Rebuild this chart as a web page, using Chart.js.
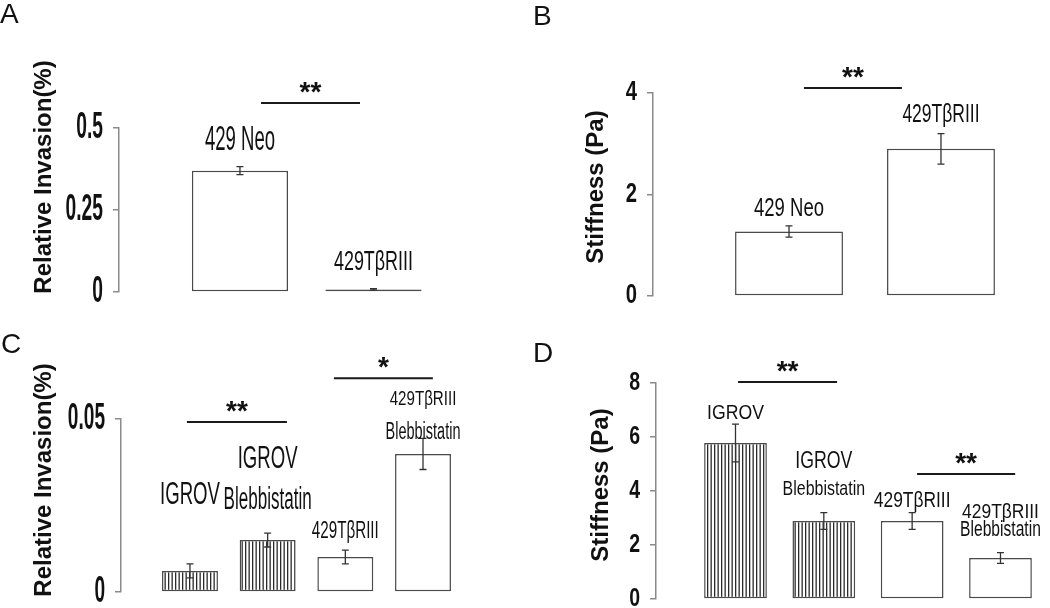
<!DOCTYPE html>
<html>
<head>
<meta charset="utf-8">
<script src="https://cdn.jsdelivr.net/npm/chart.js@4.4.1/dist/chart.umd.min.js"></script>
<style>
  html, body { margin: 0; padding: 0; background: #fff; }
  #fig { position: relative; width: 1050px; height: 608px; overflow: hidden; background: #fff; }
  #fig canvas { position: absolute; left: 0; top: 0; }
</style>
</head>
<body>
<div id="fig">
  <canvas id="chartA" width="1050" height="608"></canvas>
  <canvas id="chartB" width="1050" height="608"></canvas>
  <canvas id="chartC" width="1050" height="608"></canvas>
  <canvas id="chartD" width="1050" height="608"></canvas>
</div>
<script>
/* ============================================================
   Invasion / stiffness panels (A-D)
   ============================================================ */

// ---- data ----
const aGroups = [["429 Neo"], ["429TβRIII"]];
const aInvasion = [0.37, 0.008];
const aInvasionErr = [0.012, 0.002];
const aTicks = [0, 0.25, 0.5];

const bGroups = [["429 Neo"], ["429TβRIII"]];
const bStiffness = [1.27, 2.9];
const bStiffnessErr = [0.11, 0.3];
const bTicks = [0, 2, 4];

const cGroups = [["IGROV"], ["IGROV", "Blebbistatin"], ["429TβRIII"], ["429TβRIII", "Blebbistatin"]];
const cInvasion = [0.0061, 0.015, 0.0101, 0.0399];
const cInvasionErr = [0.002, 0.002, 0.002, 0.0045];
const cTicks = [0, 0.05];

const dGroups = [["IGROV"], ["IGROV", "Blebbistatin"], ["429TβRIII"], ["429TβRIII", "Blebbistatin"]];
const dStiffness = [5.78, 2.89, 2.89, 1.52];
const dStiffnessErr = [0.7, 0.31, 0.31, 0.2];
const dTicks = [0, 2, 4, 6, 8];

const FONT = '"Liberation Sans", Arial, Helvetica, sans-serif';
const AXIS = "#8a8a8a";
const INK = "#111";

// ---- panel layout (pixel boxes, label placement in data units) ----
const panels = [
  {
    id: "chartA", letter: "A", letterAt: [0, 23],
    groups: aGroups, values: aInvasion, errors: aInvasionErr, ticks: aTicks,
    title: "Relative Invasion(%)", titleAt: [44, 177],
    box: { left: 119, top: 128, right: 470, bottom: 292 },
    xRange: [0.094, 2.723], barPct: 0.72, tickFont: [37, 0.52],
    labelStyle: [[[0.463, 35, 0.53]], [[0.091, 28, 0.64]]],
    sig: [[1.158, 1.899, 0.576, "**"]]
  },
  {
    id: "chartB", letter: "B", letterAt: [533, 25],
    groups: bGroups, values: bStiffness, errors: bStiffnessErr, ticks: bTicks,
    title: "Stiffness (Pa)", titleAt: [596, 187],
    box: { left: 653, top: 93, right: 1020, bottom: 296 },
    xRange: [0.105, 2.52], barPct: 0.71, tickFont: [27, 0.75],
    labelStyle: [[[1.71, 25, 0.74]], [[3.57, 25, 0.7]]],
    sig: [[1.098, 1.743, 4.1, "**"]]
  },
  {
    id: "chartC", letter: "C", letterAt: [1, 353],
    groups: cGroups, values: cInvasion, errors: cInvasionErr, ticks: cTicks,
    title: "Relative Invasion(%)", titleAt: [44, 480],
    box: { left: 121, top: 419, right: 470, bottom: 592 },
    xRange: [0.112, 4.605], barPct: 0.72, tickFont: [36, 0.53],
    labelStyle: [
      [[0.028, 31, 0.6]],
      [[0.0384, 31, 0.6], [0.0266, 31, 0.55]],
      [[0.0173, 23, 0.66]],
      [[0.0558, 21, 0.72], [0.046, 23, 0.63]]
    ],
    sig: [[0.961, 2.248, 0.0491, "**"], [2.853, 4.127, 0.0618, "*"]]
  },
  {
    id: "chartD", letter: "D", letterAt: [533, 362],
    groups: dGroups, values: dStiffness, errors: dStiffnessErr, ticks: dTicks,
    title: "Stiffness (Pa)", titleAt: [601, 485],
    box: { left: 656, top: 383, right: 1045, bottom: 599 },
    xRange: [0.1, 4.504], barPct: 0.71, tickFont: [26, 0.75],
    labelStyle: [
      [[6.89, 21, 0.84]],
      [[5.07, 23, 0.77], [4.07, 21, 0.76]],
      [[3.63, 22, 0.79]],
      [[3.22, 21, 0.83], [2.56, 22, 0.71]]
    ],
    sig: [[1.029, 2.15, 8.04, "**"], [3.056, 4.166, 4.63, "**"]]
  }
];

// narrow, tall lettering like the original figure
function drawText(ctx, text, x, y, size, sx, opts) {
  const o = opts || {};
  ctx.save();
  ctx.translate(x, y);
  if (o.rotate) ctx.rotate(o.rotate);
  ctx.scale(sx, 1);
  ctx.font = (o.bold ? "bold " : "") + size + "px " + FONT;
  ctx.fillStyle = o.color || INK;
  ctx.textAlign = o.align || "center";
  ctx.textBaseline = o.baseline || "middle";
  ctx.fillText(text, 0, 0);
  ctx.restore();
}

function stripePattern(ctx) {
  const c = document.createElement("canvas");
  c.width = 7; c.height = 7;
  const g = c.getContext("2d");
  g.fillStyle = "#fff";
  g.fillRect(0, 0, 7, 7);
  g.fillStyle = "#2a2a2a";
  g.fillRect(0, 0, 1.3, 7);
  g.fillRect(3.5, 0, 1.3, 7);
  return ctx.createPattern(c, "repeat");
}

function decor(p) {
  return {
    id: "decor" + p.letter,
    afterDatasetsDraw(chart) {
      const ctx = chart.ctx;
      const y = chart.scales.y;
      const bars = chart.getDatasetMeta(0).data;
      ctx.save();
      ctx.strokeStyle = "#333";
      ctx.lineWidth = 1.3;
      bars.forEach((bar, i) => {
        const v = p.values[i], e = p.errors[i];
        const y1 = y.getPixelForValue(v + e);
        const y2 = y.getPixelForValue(v - e);
        ctx.beginPath();
        ctx.moveTo(bar.x, y1); ctx.lineTo(bar.x, y2);
        ctx.moveTo(bar.x - 3.5, y1); ctx.lineTo(bar.x + 3.5, y1);
        ctx.moveTo(bar.x - 3.5, y2); ctx.lineTo(bar.x + 3.5, y2);
        ctx.stroke();
      });
      ctx.restore();
    },
    afterDraw(chart) {
      const ctx = chart.ctx;
      const x = chart.scales.x, y = chart.scales.y;
      const bars = chart.getDatasetMeta(0).data;

      // panel letter
      drawText(ctx, p.letter, p.letterAt[0], p.letterAt[1], 28, 1, { align: "left", baseline: "alphabetic" });

      // axis title
      drawText(ctx, p.title, p.titleAt[0], p.titleAt[1], 24, 1, { bold: true, rotate: -Math.PI / 2 });

      // tick labels from the scale's own ticks
      y.ticks.forEach(t => {
        drawText(ctx, String(t.value), p.box.left - 16, y.getPixelForValue(t.value), p.tickFont[0], p.tickFont[1],
          { bold: true, align: "right" });
      });

      // group names over the bars
      p.groups.forEach((lines, i) => {
        lines.forEach((line, j) => {
          const st = p.labelStyle[i][j];
          drawText(ctx, line, bars[i].x, y.getPixelForValue(st[0]), st[1], st[2]);
        });
      });

      // significance bars
      ctx.save();
      ctx.strokeStyle = "#1a1a1a";
      ctx.lineWidth = 2;
      p.sig.forEach(s => {
        const x1 = x.getPixelForValue(s[0]);
        const x2 = x.getPixelForValue(s[1]);
        const yy = y.getPixelForValue(s[2]);
        ctx.beginPath();
        ctx.moveTo(x1, yy); ctx.lineTo(x2, yy);
        ctx.stroke();
        drawText(ctx, s[3], (x1 + x2) / 2, yy - 2, 28, 1, { bold: true, baseline: "alphabetic" });
      });
      ctx.restore();
    }
  };
}

panels.forEach(p => {
  const canvas = document.getElementById(p.id);
  const stripes = stripePattern(canvas.getContext("2d"));
  const fills = p.groups.map(g => g[0] === "IGROV" ? stripes : "#fff");

  new Chart(canvas, {
    type: "bar",
    data: {
      datasets: [{
        data: p.values.map((v, i) => ({ x: i + 1, y: v })),
        backgroundColor: fills,
        borderColor: "#4a4a4a",
        borderWidth: 1.5,
        borderSkipped: false,
        barPercentage: p.barPct,
        categoryPercentage: 1
      }]
    },
    options: {
      responsive: false,
      animation: false,
      events: [],
      layout: {
        padding: {
          left: p.box.left - 10,
          top: p.box.top,
          right: 1050 - p.box.right,
          bottom: 608 - p.box.bottom
        }
      },
      plugins: { legend: { display: false }, tooltip: { enabled: false } },
      scales: {
        x: {
          type: "linear",
          display: false,
          offset: false,
          min: p.xRange[0],
          max: p.xRange[1],
          afterBuildTicks: s => { s.ticks = p.values.map((v, i) => ({ value: i + 1 })); }
        },
        y: {
          min: p.ticks[0],
          max: p.ticks[p.ticks.length - 1],
          afterBuildTicks: s => { s.ticks = p.ticks.map(v => ({ value: v })); },
          afterFit: s => { s.width = 10; s.paddingTop = 0; s.paddingBottom = 0; },
          border: { display: true, color: AXIS, width: 1.5 },
          grid: { drawOnChartArea: false, drawTicks: true, tickLength: 6, color: AXIS, lineWidth: 1.5 },
          ticks: { display: false }
        }
      }
    },
    plugins: [decor(p)]
  });
});
</script>
</body>
</html>
